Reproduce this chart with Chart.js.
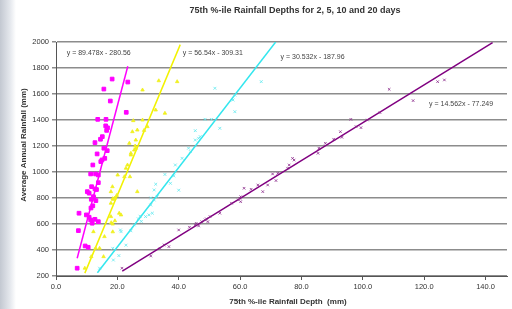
<!DOCTYPE html>
<html>
<head>
<meta charset="utf-8">
<script src="https://cdn.jsdelivr.net/npm/chart.js@4"></script>
<style>
html, body { margin: 0; padding: 0; background: #fff; overflow: hidden; }
#wrap { position: relative; width: 512px; height: 309px; }
#strip { position: absolute; left: 0; top: 0; width: 16px; height: 309px;
  background: linear-gradient(to right, #c3c8d1, #e6e9ee 65%, #fff); }
canvas { position: absolute; left: 0; top: 0; }
</style>
</head>
<body>
<div id="wrap"><div id="strip"></div><canvas id="chart" width="512" height="309"></canvas></div>
<script>
//TEXT
const chartTitle = "75th %-ile Rainfall Depths for 2, 5, 10 and 20 days";
const xTitle = "75th %-ile Rainfall Depth  (mm)";
const yTitle = "Average Annual Rainfall (mm)";

//DATA (x = 75th %-ile depth, y = average annual rainfall)
const twoDayDepth = [6.9, 7.3, 7.5, 9.5, 10.5, 9.9, 10.8, 11.3, 12.7, 13.8, 11.8, 11.4, 12.0, 11.5, 12.3, 13.0, 12.2, 10.8, 13.2, 12.7, 11.6, 13.8, 11.3, 13.8, 12.0, 14.6, 15.0, 15.9, 13.4, 16.7, 15.6, 12.7, 14.5, 15.1, 16.5, 16.8, 16.2, 13.6, 16.3, 22.9, 17.7, 15.6, 23.4, 18.3, 10.2, 12.9];
const twoDayRain  = [260, 549, 683, 431, 421, 670, 652, 631, 636, 618, 606, 723, 740, 790, 800, 780, 810, 837, 865, 870, 887, 918, 985, 977, 1054, 1080, 1093, 1105, 1139, 1164, 1183, 1226, 1252, 1272, 1320, 1340, 1355, 1405, 1405, 1459, 1546, 1638, 1692, 1715, 849, 985];

const fiveDayDepth = [9.4, 11.5, 12.9, 14.2, 15.5, 12.2, 15.8, 18.5, 18.5, 18.0, 19.2, 17.9, 20.6, 21.2, 17.9, 18.5, 19.2, 19.8, 18.6, 17.9, 18.4, 20.1, 22.3, 24.1, 26.5, 22.8, 23.3, 24.4, 24.4, 25.5, 26.0, 25.8, 23.9, 26.0, 28.7, 24.9, 26.5, 29.8, 25.2, 28.2, 35.5, 32.5, 28.2, 33.5, 39.5];
const fiveDayRain  = [260, 349, 413, 413, 349, 541, 503, 540, 600, 610, 625, 657, 683, 670, 760, 795, 800, 820, 790, 849, 887, 977, 964, 964, 849, 1029, 1054, 1131, 1144, 1169, 1183, 1200, 1221, 1246, 1320, 1310, 1323, 1349, 1395, 1400, 1452, 1477, 1631, 1702, 1695];

const tenDayDepth = [14.2, 18.7, 20.5, 18.5, 22.8, 21.2, 21.0, 24.4, 25.5, 27.4, 26.8, 27.8, 29.2, 30.3, 31.4, 30.9, 32.0, 30.9, 33.0, 32.0, 32.5, 37.3, 40.0, 35.5, 38.4, 38.9, 41.1, 43.2, 43.8, 45.4, 47.0, 46.5, 45.4, 48.6, 50.7, 53.4, 58.3, 57.7, 58.3, 51.8, 66.9];
const tenDayRain  = [260, 323, 357, 413, 437, 541, 554, 548, 593, 660, 640, 620, 657, 670, 683, 746, 785, 800, 810, 862, 906, 913, 860, 981, 970, 1054, 1105, 1183, 1157, 1246, 1272, 1259, 1318, 1405, 1405, 1336, 1464, 1554, 1592, 1644, 1695];

const twentyDayDepth = [21.5, 30.9, 33.9, 36.8, 35.2, 40.0, 43.5, 45.4, 45.7, 46.5, 47.5, 48.6, 49.5, 50.2, 49.0, 53.4, 57.2, 59.4, 60.2, 60.2, 59.9, 61.3, 63.6, 65.8, 67.4, 69.0, 70.6, 72.3, 71.7, 75.5, 76.0, 77.1, 77.6, 85.4, 85.7, 87.8, 90.5, 93.2, 92.7, 96.1, 97.8, 99.4, 101.5, 105.6, 108.6, 116.4, 124.4, 126.6];
const twentyDayRain  = [260, 354, 413, 426, 439, 554, 575, 593, 605, 585, 618, 631, 618, 657, 640, 683, 760, 785, 772, 810, 798, 875, 867, 900, 849, 900, 985, 990, 934, 1029, 1054, 1105, 1092, 1144, 1183, 1221, 1252, 1267, 1310, 1405, 1349, 1341, 1400, 1457, 1636, 1549, 1695, 1708];

// trend line ends
const twoDayTrend    = [[6.9, 337], [23.4, 1813]];
const fiveDayTrend   = [[9.4, 222], [40.5, 1980]];
const tenDayTrend    = [[13.5, 225], [71.6, 2000]];
const twentyDayTrend = [[21.6, 237], [142.3, 1995]];

const equationTexts = ["y = 89.478x - 280.56", "y = 56.54x - 309.31", "y = 30.532x - 187.96", "y = 14.562x - 77.249"];
const equationAt = [[3.5, 1915], [41.3, 1915], [73.2, 1885], [121.6, 1523]];

const FONT = '"Liberation Sans", Arial, sans-serif';

function points(xs, ys) {
  return xs.map((x, i) => ({ x: x, y: ys[i] }));
}
function line(pairs) {
  return pairs.map(p => ({ x: p[0], y: p[1] }));
}

const textPlugin = {
  id: 'texts',
  afterDraw(chart) {
    const ctx = chart.ctx;
    const sx = chart.scales.x, sy = chart.scales.y;
    ctx.save();
    ctx.fillStyle = '#333';
    ctx.textAlign = 'center';
    ctx.textBaseline = 'middle';
    ctx.font = 'bold 9px ' + FONT;
    ctx.fillText(chartTitle, 295, 11);
    ctx.font = 'bold 8px ' + FONT;
    ctx.fillText(xTitle, 288, 302);
    ctx.save();
    ctx.translate(24, 145);
    ctx.rotate(-Math.PI / 2);
    ctx.fillText(yTitle, 0, 0);
    ctx.restore();
    ctx.font = '7px ' + FONT;
    ctx.fillStyle = '#444';
    ctx.textAlign = 'left';
    equationTexts.forEach((t, i) => {
      ctx.fillText(t, sx.getPixelForValue(equationAt[i][0]), sy.getPixelForValue(equationAt[i][1]));
    });
    ctx.restore();
  }
};

function markerSet(label, data, color, style, radius, width) {
  return {
    label: label, data: data, showLine: false,
    pointStyle: style, pointRadius: radius, pointBorderWidth: width,
    borderColor: color, backgroundColor: color
  };
}
function trendSet(data, color) {
  return {
    data: data, showLine: true, pointRadius: 0,
    borderColor: color, borderWidth: 1.5, fill: false
  };
}

new Chart(document.getElementById('chart').getContext('2d'), {
  type: 'scatter',
  data: {
    datasets: [
      markerSet('2 days', points(twoDayDepth, twoDayRain), '#ff00ff', 'rect', 2.6, 1),
      markerSet('5 days', points(fiveDayDepth, fiveDayRain), '#f0f020', 'triangle', 2, 0.8),
      markerSet('10 days', points(tenDayDepth, tenDayRain), '#5ee8ef', 'crossRot', 2, 0.8),
      markerSet('20 days', points(twentyDayDepth, twentyDayRain), '#8a2a8a', 'crossRot', 1.8, 0.8),
      trendSet(line(twoDayTrend), '#ff00ff'),
      trendSet(line(fiveDayTrend), '#f2f200'),
      trendSet(line(tenDayTrend), '#33e6ee'),
      trendSet(line(twentyDayTrend), '#800080'),
    ]
  },
  options: {
    responsive: false,
    animation: false,
    layout: { padding: { top: 42, left: 12, right: 0, bottom: 0 } },
    plugins: { legend: { display: false }, tooltip: { enabled: false }, title: { display: false } },
    scales: {
      x: {
        type: 'linear', min: 0, max: 147,
        ticks: { stepSize: 20, callback: v => v.toFixed(1), color: '#333', font: { size: 7.5, family: FONT }, padding: 2, maxRotation: 0 },
        grid: { drawOnChartArea: false, drawTicks: true, tickLength: 4, color: '#555' },
        border: { color: '#555', width: 1 },
        afterBuildTicks: s => { s.ticks = s.ticks.filter(t => t.value % 20 === 0); },
        afterFit: s => { s.height = 33; }
      },
      y: {
        min: 200, max: 2000,
        ticks: { stepSize: 200, callback: v => String(v), color: '#333', font: { size: 7.5, family: FONT }, padding: 3 },
        grid: { color: '#8c8c8c', lineWidth: 1.5, tickLength: 4 },
        border: { color: '#555', width: 1 },
        afterFit: s => { s.width = 44; }
      }
    }
  },
  plugins: [textPlugin]
});
</script>
</body>
</html>
